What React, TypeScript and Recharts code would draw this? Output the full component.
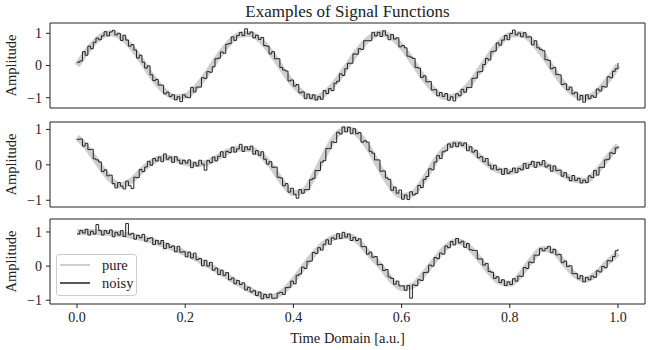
import { Legend, Line, LineChart, ReferenceArea, XAxis, YAxis } from "recharts"

const FONT = "Liberation Serif"
const INK = "#222222"
const PURE_COLOR = "#cfcfcf"

const TITLE = "Examples of Signal Functions"
const X_LABEL = "Time Domain [a.u.]"
const Y_LABEL = "Amplitude"
const SERIES = ["pure", "noisy"]

const xTicks = [0, 0.2, 0.4, 0.6, 0.8, 1.0]
const yTicks = [-1, 0, 1]

// pure signals, read every 0.02 on the time axis
const pure1 = [
  0, 0.48, 0.84, 1.0, 0.9, 0.59, 0.13, -0.37, -0.77, -0.98,
  -0.95, -0.68, -0.25, 0.25, 0.68, 0.95, 0.98, 0.77, 0.37, -0.13,
  -0.59, -0.9, -1.0, -0.84, -0.48, 0, 0.48, 0.84, 1.0, 0.9,
  0.59, 0.13, -0.37, -0.77, -0.98, -0.95, -0.68, -0.25, 0.25, 0.68,
  0.95, 0.98, 0.77, 0.37, -0.13, -0.59, -0.9, -1.0, -0.84, -0.48,
  0,
]
const pure2 = [
  0.78, 0.45, 0.02, -0.38, -0.58, -0.45, -0.15, 0.1, 0.2, 0.16,
  0.06, 0.02, 0.06, 0.22, 0.38, 0.46, 0.45, 0.28, -0.05, -0.5,
  -0.8, -0.72, -0.25, 0.35, 0.85, 1.02, 0.85, 0.45, -0.1, -0.6,
  -0.88, -0.82, -0.45, 0.05, 0.45, 0.6, 0.52, 0.28, 0.02, -0.16,
  -0.2, -0.1, 0.02, 0.02, -0.1, -0.28, -0.42, -0.45, -0.2, 0.18,
  0.55,
]
const pure3 = [
  1.0, 1.0, 0.99, 0.97, 0.94, 0.89, 0.82, 0.73, 0.63, 0.51,
  0.38, 0.22, 0.05, -0.13, -0.33, -0.52, -0.7, -0.85, -0.9, -0.75,
  -0.42, 0.0, 0.4, 0.7, 0.86, 0.88, 0.72, 0.36, 0.02, -0.38,
  -0.64, -0.58, -0.25, 0.15, 0.52, 0.73, 0.62, 0.28, -0.12, -0.45,
  -0.52, -0.25, 0.18, 0.5, 0.45, 0.1, -0.25, -0.4, -0.22, 0.1,
  0.38,
]

// noisy signals, read every 0.005 on the time axis
const noisy1 = [
  0.1, 0.14, 0.43, 0.32, 0.6, 0.52, 0.72, 0.85, 0.8, 0.92,
  1.05, 0.92, 1.04, 1.09, 0.95, 1.0, 0.78, 0.94, 0.79, 0.6,
  0.65, 0.48, 0.23, 0.32, 0.1, -0.08, -0.01, -0.29, -0.47, -0.43,
  -0.61, -0.61, -0.88, -0.83, -0.96, -0.91, -1.07, -0.97, -1.12, -0.91,
  -0.98, -1.0, -0.68, -0.82, -0.67, -0.67, -0.38, -0.4, -0.19, -0.21,
  -0.04, 0.21, 0.23, 0.42, 0.38, 0.66, 0.68, 0.89, 0.78, 0.93,
  1.03, 0.93, 1.14, 0.98, 1.04, 0.86, 0.94, 0.81, 0.87, 0.62,
  0.6, 0.36, 0.43, 0.21, 0.21, -0.06, -0.14, -0.17, -0.48, -0.45,
  -0.64, -0.59, -0.85, -0.82, -1.03, -0.89, -1.02, -0.91, -1.07, -0.97,
  -1.05, -0.78, -0.87, -0.72, -0.78, -0.55, -0.49, -0.26, -0.31, -0.1,
  0.07, 0.07, 0.36, 0.35, 0.52, 0.5, 0.77, 0.77, 0.77, 1.03,
  0.92, 1.03, 0.9, 1.08, 0.94, 0.8, 0.96, 0.82, 0.86, 0.58,
  0.62, 0.55, 0.29, 0.26, 0.22, -0.06, -0.08, -0.37, -0.32, -0.51,
  -0.5, -0.76, -0.75, -0.94, -0.84, -0.96, -0.87, -1.08, -0.97, -1.1,
  -0.88, -0.94, -0.74, -0.83, -0.68, -0.68, -0.4, -0.39, -0.2, -0.19,
  0.03, 0.22, 0.17, 0.43, 0.45, 0.7, 0.63, 0.79, 0.93, 0.8,
  0.99, 1.1, 0.95, 1.01, 0.89, 1.02, 0.88, 0.89, 0.64, 0.77,
  0.55, 0.5, 0.46, 0.18, 0.16, -0.1, -0.06, -0.28, -0.29, -0.59,
  -0.57, -0.75, -0.67, -0.88, -0.83, -1.07, -0.93, -1.14, -0.91, -1.03,
  -0.94, -0.99, -0.73, -0.79, -0.65, -0.67, -0.35, -0.38, -0.18, -0.1,
  0.08,
]
const noisy2 = [
  0.72, 0.73, 0.53, 0.61, 0.43, 0.44, 0.17, 0.14, 0.08, -0.19,
  -0.14, -0.31, -0.29, -0.53, -0.65, -0.5, -0.6, -0.68, -0.46, -0.59,
  -0.67, -0.35, -0.36, -0.13, -0.19, -0.06, 0.1, -0.01, 0.18, 0.11,
  0.22, 0.09, 0.31, 0.16, 0.22, 0.07, 0.23, 0.13, 0.03, 0.13,
  0.05, 0.14, -0.08, 0.06, -0.03, 0.13, 0.02, -0.15, 0.12, 0.06,
  0.22, 0.11, 0.24, 0.37, 0.21, 0.38, 0.35, 0.5, 0.36, 0.45,
  0.58, 0.38, 0.51, 0.43, 0.53, 0.3, 0.4, 0.27, 0.37, 0.16,
  0.02, 0.09, -0.07, -0.06, -0.35, -0.37, -0.59, -0.53, -0.77, -0.66,
  -0.83, -0.94, -0.7, -0.8, -0.7, -0.7, -0.42, -0.38, -0.16, -0.16,
  0.08, 0.12, 0.46, 0.46, 0.65, 0.63, 0.92, 0.87, 1.07, 0.93,
  1.06, 0.88, 1.02, 0.88, 0.91, 0.64, 0.68, 0.64, 0.38, 0.33,
  0.14, 0.14, -0.18, -0.17, -0.37, -0.41, -0.72, -0.63, -0.8, -0.71,
  -0.97, -0.85, -0.98, -0.76, -0.85, -0.81, -0.58, -0.64, -0.41, -0.33,
  -0.11, -0.14, 0.08, 0.26, 0.18, 0.37, 0.4, 0.59, 0.5, 0.62,
  0.51, 0.62, 0.55, 0.62, 0.4, 0.51, 0.36, 0.41, 0.2, 0.23,
  0.09, 0.18, -0.01, -0.12, -0.01, -0.14, -0.12, -0.27, -0.1, -0.24,
  -0.19, -0.09, -0.22, -0.1, -0.14, 0.04, -0.1, 0.01, 0.1, -0.07,
  0.07, 0.0, 0.12, -0.06, -0.01, -0.18, -0.03, -0.16, -0.15, -0.32,
  -0.22, -0.35, -0.45, -0.3, -0.44, -0.38, -0.51, -0.43, -0.5, -0.31,
  -0.36, -0.16, -0.29, -0.07, -0.07, 0.14, 0.16, 0.34, 0.32, 0.48,
  0.52,
]
const noisy3 = [
  0.94, 1.04, 0.97, 1.08, 0.91, 1.02, 0.94, 1.22, 1.04, 0.91,
  1.04, 0.96, 1.06, 0.86, 0.99, 0.91, 1.04, 0.87, 1.25, 0.92,
  0.96, 0.79, 0.9, 0.83, 0.93, 0.73, 0.81, 0.83, 0.63, 0.75,
  0.65, 0.75, 0.51, 0.66, 0.55, 0.59, 0.42, 0.58, 0.41, 0.42,
  0.27, 0.41, 0.24, 0.38, 0.19, 0.22, 0.01, 0.17, 0.0, 0.11,
  -0.12, -0.06, -0.25, -0.12, -0.27, -0.19, -0.4, -0.35, -0.52, -0.42,
  -0.54, -0.49, -0.7, -0.62, -0.76, -0.72, -0.86, -0.76, -0.96, -0.83,
  -0.92, -0.82, -0.94, -0.94, -0.79, -0.77, -0.83, -0.63, -0.62, -0.44,
  -0.52, -0.27, -0.23, -0.03, -0.07, 0.14, 0.15, 0.4, 0.37, 0.54,
  0.47, 0.64, 0.77, 0.64, 0.83, 0.79, 0.95, 0.81, 0.99, 0.85,
  0.94, 0.75, 0.84, 0.75, 0.8, 0.57, 0.57, 0.35, 0.41, 0.26,
  0.28, 0.04, 0.05, -0.13, -0.1, -0.32, -0.36, -0.53, -0.44, -0.58,
  -0.58, -0.71, -0.57, -0.94, -0.55, -0.57, -0.4, -0.42, -0.19, -0.18,
  0.03, 0.0, 0.25, 0.22, 0.38, 0.35, 0.59, 0.54, 0.72, 0.62,
  0.81, 0.68, 0.73, 0.55, 0.66, 0.48, 0.46, 0.46, 0.21, 0.21,
  0.03, 0.08, -0.16, -0.18, -0.36, -0.31, -0.48, -0.4, -0.57, -0.46,
  -0.54, -0.37, -0.44, -0.29, -0.3, -0.04, -0.07, 0.12, 0.1, 0.32,
  0.32, 0.51, 0.45, 0.52, 0.58, 0.39, 0.49, 0.33, 0.34, 0.1,
  0.15, -0.01, 0.01, -0.22, -0.22, -0.37, -0.28, -0.46, -0.33, -0.4,
  -0.29, -0.33, -0.14, -0.17, -0.01, -0.05, 0.16, 0.15, 0.28, 0.45,
  0.5,
]

// noisy grid is 4x finer than the pure one
function buildRows(pure: number[], noisy: number[]) {
  return noisy.map((v, i) => ({
    t: i / (noisy.length - 1),
    noisy: v,
    pure: i % 4 === 0 ? pure[i / 4] : null,
  }))
}

const PLOT_H = 85
const PAD_TOP = 10

const panels = [
  { rows: buildRows(pure1, noisy1), yDomain: [-1.32, 1.32], top: 23 },
  { rows: buildRows(pure2, noisy2), yDomain: [-1.19, 1.21], top: 122 },
  { rows: buildRows(pure3, noisy3), yDomain: [-1.11, 1.38], top: 219 },
]

const fmtY = (v: number) => (v < 0 ? `\u2212${Math.abs(v)}` : `${v}`)

function LegendBox({ payload }: any) {
  const items = SERIES.map((name) => (payload || []).find((p: any) => p.value === name)).filter(Boolean)
  return (
    <div
      style={{
        width: 81,
        height: 42,
        boxSizing: "border-box",
        border: "1px solid #cccccc",
        borderRadius: 3,
        background: "rgba(255,255,255,0.8)",
        paddingTop: 1,
      }}
    >
      {items.map((p: any) => (
        <div key={p.value} style={{ display: "flex", alignItems: "center", height: 18 }}>
          <svg width={30} height={6} style={{ marginLeft: 3 }}>
            <line x1={0} x2={30} y1={3} y2={3} stroke={p.color} strokeWidth={p.value === "pure" ? 2 : 1.5} />
          </svg>
          <span style={{ marginLeft: 12, fontSize: 14.5, fontFamily: FONT, color: INK, lineHeight: "18px" }}>
            {p.value}
          </span>
        </div>
      ))}
    </div>
  )
}

function SignalPanel({ rows, yDomain, top, last }: any) {
  const xHeight = last ? 30 : 6
  return (
    <div style={{ position: "absolute", left: 0, top: top - PAD_TOP }}>
      <LineChart
        width={650}
        height={PAD_TOP + PLOT_H + xHeight}
        data={rows}
        margin={{ top: PAD_TOP, right: 5, bottom: 0, left: 0 }}
      >
        <XAxis
          dataKey="t"
          type="number"
          domain={[-0.05, 1.05]}
          ticks={xTicks}
          interval={0}
          allowDataOverflow
          axisLine={false}
          tickLine={{ stroke: INK }}
          tickSize={4}
          tickMargin={4}
          height={xHeight}
          tick={last ? { fill: INK, fontSize: 14, fontFamily: FONT } : false}
          tickFormatter={(v: number) => v.toFixed(1)}
        />
        <YAxis
          type="number"
          domain={yDomain}
          ticks={yTicks}
          interval={0}
          allowDataOverflow
          axisLine={false}
          tickLine={{ stroke: INK }}
          tickSize={4}
          tickMargin={4}
          width={50}
          tick={{ fill: INK, fontSize: 14, fontFamily: FONT }}
          tickFormatter={fmtY}
        />
        <ReferenceArea
          x1={-0.05}
          x2={1.05}
          y1={yDomain[0]}
          y2={yDomain[1]}
          fill="none"
          stroke={INK}
          strokeWidth={1}
          ifOverflow="visible"
        />
        <Line
          dataKey="pure"
          name="pure"
          type="monotone"
          stroke={PURE_COLOR}
          strokeWidth={6}
          dot={false}
          activeDot={false}
          connectNulls
          isAnimationActive={false}
        />
        <Line
          dataKey="noisy"
          name="noisy"
          type="stepAfter"
          stroke={INK}
          strokeWidth={1}
          dot={false}
          activeDot={false}
          isAnimationActive={false}
        />
        {last && (
          <Legend
            layout="horizontal"
            verticalAlign="middle"
            align="center"
            wrapperStyle={{ left: 56, top: 45, width: "auto", height: "auto" }}
            content={<LegendBox />}
          />
        )}
      </LineChart>
    </div>
  )
}

export default function App() {
  return (
    <div
      style={{
        position: "absolute",
        left: 0,
        top: 0,
        width: 650,
        height: 350,
        background: "#ffffff",
        fontFamily: FONT,
      }}
    >
      {panels.map((p, i) => (
        <SignalPanel key={i} rows={p.rows} yDomain={p.yDomain} top={p.top} last={i === panels.length - 1} />
      ))}
      <svg width={650} height={350} style={{ position: "absolute", left: 0, top: 0, pointerEvents: "none" }}>
        <text x={347.5} y={16.5} textAnchor="middle" style={{ fontSize: 17, fontFamily: FONT }} fill={INK}>
          {TITLE}
        </text>
        <text x={347.5} y={343} textAnchor="middle" style={{ fontSize: 14.5, fontFamily: FONT }} fill={INK}>
          {X_LABEL}
        </text>
        {panels.map((p, i) => {
          const cy = p.top + PLOT_H / 2
          return (
            <text
              key={i}
              x={15.5}
              y={cy}
              transform={`rotate(-90 15.5 ${cy})`}
              textAnchor="middle"
              style={{ fontSize: 14.5, fontFamily: FONT }}
              fill={INK}
            >
              {Y_LABEL}
            </text>
          )
        })}
      </svg>
    </div>
  )
}
